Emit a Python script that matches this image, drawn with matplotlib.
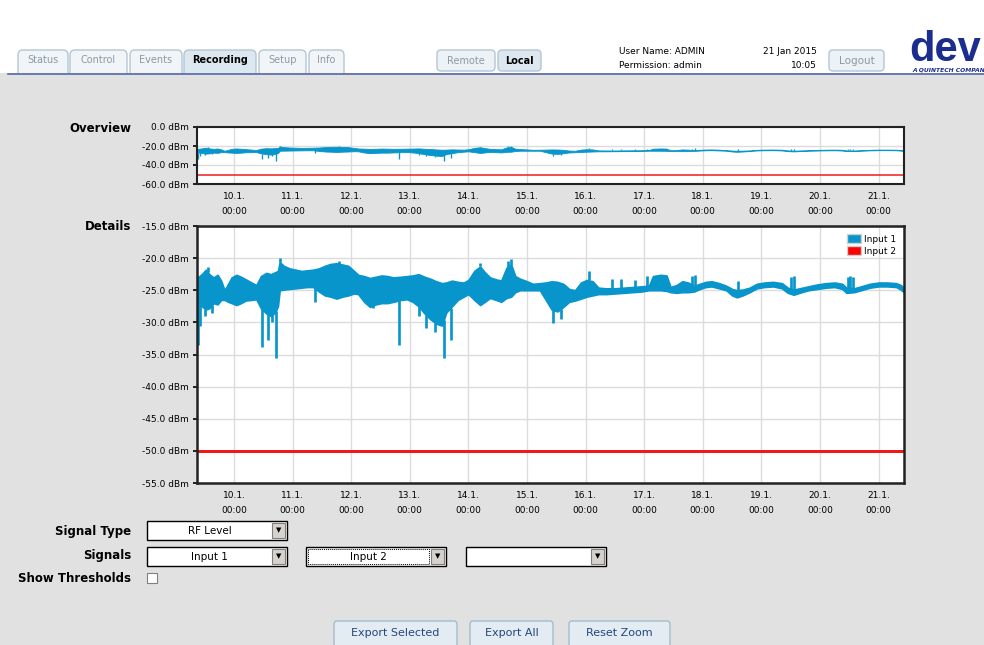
import matplotlib
matplotlib.use("Agg")
import matplotlib.pyplot as plt
import numpy as np
from matplotlib.patches import Rectangle, FancyBboxPatch, Patch

# --- recorded RF level of Input 1 (day of January, dBm) ---
# envelope of the noisy trace: time, upper edge, lower edge
band_t = [9.38, 9.45, 9.52, 9.58, 9.65, 9.72, 9.78, 9.84, 9.90, 9.96,
          10.04, 10.12, 10.20, 10.30, 10.38, 10.46, 10.55, 10.63, 10.70, 10.75,
          10.78, 10.85, 10.95, 11.05, 11.15, 11.25, 11.35, 11.45, 11.55, 11.65,
          11.75, 11.85, 11.95, 12.05, 12.12, 12.22, 12.32, 12.42, 12.52, 12.62,
          12.72, 12.85, 12.95, 13.05, 13.15, 13.25, 13.35, 13.45, 13.55, 13.62,
          13.72, 13.82, 13.92, 14.00, 14.10, 14.20, 14.28, 14.37, 14.47, 14.56,
          14.65, 14.73, 14.80, 14.88, 15.00, 15.10, 15.22, 15.32, 15.42, 15.52,
          15.62, 15.72, 15.82, 15.92, 16.02, 16.12, 16.22, 16.35, 16.50, 16.65,
          16.80, 16.95, 17.08, 17.15, 17.28, 17.38, 17.45, 17.55, 17.65, 17.75,
          17.85, 17.95, 18.05, 18.15, 18.28, 18.40, 18.50, 18.58, 18.68, 18.80,
          18.92, 19.05, 19.20, 19.35, 19.45, 19.55, 19.65, 19.80, 19.95, 20.10,
          20.25, 20.38, 20.45, 20.58, 20.70, 20.85, 21.00, 21.15, 21.30, 21.38,
          21.43]
band_hi = [-23.0, -22.5, -21.8, -22.5, -23.0, -22.6, -23.5, -25.0, -24.0, -23.0,
           -22.6, -22.9, -23.3, -23.8, -24.2, -22.8, -22.3, -22.5, -22.2, -22.0,
           -20.6, -21.2, -21.6, -21.8, -22.0, -21.9, -21.8, -21.6, -21.2, -20.9,
           -20.8, -21.0, -21.2, -22.0, -22.6, -22.8, -23.1, -22.9, -22.7, -22.8,
           -23.0, -22.9, -22.8, -22.7, -22.5, -22.9, -23.2, -23.6, -23.9, -23.8,
           -23.5, -23.7, -23.8, -23.4, -22.0, -21.3, -22.2, -23.0, -23.3, -23.5,
           -21.5, -21.0, -22.8, -23.2, -23.6, -24.0, -23.9, -23.8, -23.6, -23.7,
           -24.0, -24.8, -25.0, -23.8, -23.4, -23.6, -24.6, -24.7, -24.7, -24.6,
           -24.5, -24.4, -24.3, -22.8, -22.6, -22.7, -24.5, -24.2, -23.6, -23.8,
           -24.3, -24.0, -23.7, -23.6, -23.9, -24.3, -24.8, -25.0, -24.9, -24.6,
           -24.0, -23.8, -23.7, -23.9, -24.6, -24.9, -24.7, -24.4, -24.1, -23.9,
           -23.8, -24.0, -24.6, -24.7, -24.4, -24.0, -23.8, -23.8, -23.9, -24.2,
           -24.6]
band_lo = [-26.8, -27.5, -28.0, -27.8, -27.0, -27.2, -26.5, -26.5, -26.8, -27.0,
           -27.3, -27.0, -26.6, -26.5, -26.4, -27.8, -28.6, -29.0, -28.5, -27.5,
           -25.0, -24.9, -24.8, -24.7, -24.6, -24.5, -24.5, -25.2, -25.8, -26.0,
           -26.3, -26.0, -25.8, -25.5, -25.6, -26.8, -27.6, -27.2, -27.0, -27.0,
           -26.8, -26.5, -26.4, -26.8, -27.5, -28.6, -29.5, -30.2, -30.5, -28.5,
           -27.5, -26.5, -26.0, -25.6, -26.5, -27.3, -26.8, -26.2, -26.5, -26.8,
           -26.2, -26.0, -25.3, -25.0, -25.0, -25.0, -25.0, -26.5, -28.0, -28.3,
           -27.6, -26.8, -26.6, -26.3, -26.0, -25.8, -25.6, -25.6, -25.5, -25.4,
           -25.3, -25.2, -25.0, -25.0, -25.0, -25.1, -25.3, -25.4, -25.3, -25.3,
           -25.2, -24.8, -24.5, -24.4, -24.7, -25.0, -25.8, -26.1, -25.8, -25.3,
           -24.7, -24.5, -24.4, -24.7, -25.4, -25.7, -25.4, -25.0, -24.8, -24.6,
           -24.5, -24.8, -25.4, -25.3, -25.0, -24.6, -24.4, -24.4, -24.5, -24.9,
           -25.3]
# short drops and peaks of Input 1
dip_t = [9.385, 9.42, 9.50, 9.62, 10.48, 10.58, 10.65, 10.71, 11.38, 12.38,
         12.82, 13.15, 13.28, 13.43, 13.58, 13.70, 15.45, 15.58]
dip_v = [-33.5, -30.5, -29.0, -28.5, -33.8, -32.7, -30.0, -35.6, -26.9, -27.8,
         -33.5, -29.0, -30.9, -31.5, -35.6, -32.7, -30.1, -29.4]
peak_t = [9.55, 10.78, 11.80, 14.20, 14.68, 14.72, 16.05, 16.45, 16.60, 16.85,
          17.05, 17.82, 17.87, 18.60, 19.50, 19.55, 20.47, 20.52, 20.57]
peak_v = [-21.4, -20.0, -20.5, -20.8, -20.4, -20.2, -22.0, -23.2, -23.3, -23.4,
          -22.8, -22.8, -22.6, -23.6, -22.9, -22.8, -22.9, -22.8, -23.0]

# Input 2
in2_t = [9.37, 21.43]
in2_v = [-50.0, -50.0]

day_ticks = [10, 11, 12, 13, 14, 15, 16, 17, 18, 19, 20, 21]
day_labels = ["%d.1.\n00:00" % d for d in day_ticks]
ov_ticks = [0, -20, -40, -60]
det_ticks = [-15, -20, -25, -30, -35, -40, -45, -50, -55]

BLUE = "#0795cc"
RED = "#f01818"
GRAY_BG = "#e1e1e1"

W, H = 984, 645
fig = plt.figure(figsize=(W / 100, H / 100), dpi=100)
fig.patch.set_facecolor(GRAY_BG)

ui = fig.add_axes([0, 0, 1, 1], zorder=0)
ui.set_xlim(0, W)
ui.set_ylim(H, 0)
ui.axis("off")


def button(x, y, w, h, text, bold=False, color="#8d99a4", fill="#edf2f6",
           edge="#b3c6d4", size=7):
    ui.add_patch(FancyBboxPatch((x, y), w, h, boxstyle="round,pad=0,rounding_size=4",
                                fc=fill, ec=edge, lw=1))
    ui.text(x + w / 2, y + h / 2, text, ha="center", va="center", fontsize=size,
            color=color, fontweight="bold" if bold else "normal")


# header
ui.add_patch(Rectangle((0, 0), W, 73, fc="white", ec="none"))
tabs = [("Status", 18, 50), ("Control", 70, 57), ("Events", 130, 52),
        ("Recording", 184, 72), ("Setup", 259, 47), ("Info", 309, 35)]
for name, x, w in tabs:
    act = name == "Recording"
    ui.add_patch(FancyBboxPatch((x, 50), w, 30, boxstyle="round,pad=0,rounding_size=5",
                                fc="#dde7ef" if act else "#f1f5f8", ec="#b3c6d4", lw=1))
    ui.text(x + w / 2, 60, name, ha="center", va="center", fontsize=7,
            color="black" if act else "#8d99a4", fontweight="bold" if act else "normal")
ui.add_patch(Rectangle((0, 74), W, H - 74, fc=GRAY_BG, ec="none", zorder=2))
ui.plot([8, W], [73.5, 73.5], color="#5566aa", lw=1.2, zorder=3)

button(437, 50, 58, 21, "Remote")
button(498, 50, 43, 21, "Local", bold=True, color="black", fill="#dde7ef")
button(829, 50, 55, 21, "Logout", size=7.5)
ui.text(619, 52, "User Name: ADMIN", fontsize=6.5, va="center")
ui.text(619, 66, "Permission: admin", fontsize=6.5, va="center")
ui.text(817, 52, "21 Jan 2015", fontsize=6.5, va="center", ha="right")
ui.text(817, 66, "10:05", fontsize=6.5, va="center", ha="right")
ui.text(909, 61, "dev", fontsize=30, fontweight="bold", color="#1b2d8f",
        family="Liberation Sans", va="baseline")
ui.text(912, 69.5, "A QUINTECH COMPANY", fontsize=4.3, fontweight="bold", style="italic",
        color="#1b2d8f", va="center")

# chart labels
ui.text(131, 128, "Overview", ha="right", va="center", fontsize=8.5, fontweight="bold", zorder=4)
ui.text(131, 227, "Details", ha="right", va="center", fontsize=8.5, fontweight="bold", zorder=4)


# controls
def dropdown(x, y, w, text, focus=False):
    ui.add_patch(Rectangle((x, y), w, 19, fc="white", ec="black", lw=1, zorder=4))
    ui.add_patch(Rectangle((x + w - 15, y + 2), 13, 15, fc="#d6d3ce", ec="#808080", lw=0.8, zorder=5))
    ui.text(x + w - 8.5, y + 9.5, "\u25bc", ha="center", va="center", fontsize=5, zorder=6)
    if focus:
        ui.add_patch(Rectangle((x + 2, y + 2), w - 19, 15, fc="none", ec="black", lw=0.7,
                               ls=(0, (1, 1)), zorder=5))
    ui.text(x + (w - 15) / 2, y + 10, text, ha="center", va="center", fontsize=7.5, zorder=6)


ui.text(131, 531, "Signal Type", ha="right", va="center", fontsize=8.5, fontweight="bold", zorder=4)
ui.text(131, 556, "Signals", ha="right", va="center", fontsize=8.5, fontweight="bold", zorder=4)
ui.text(131, 579, "Show Thresholds", ha="right", va="center", fontsize=8.5, fontweight="bold", zorder=4)
dropdown(147, 521, 140, "RF Level")
dropdown(147, 547, 140, "Input 1")
dropdown(306, 547, 140, "Input 2", focus=True)
dropdown(466, 547, 140, "")
ui.add_patch(Rectangle((147, 573), 10, 10, fc="white", ec="#808080", lw=0.8, zorder=4))

for txt, x, w in [("Export Selected", 334, 123), ("Export All", 470, 83), ("Reset Zoom", 569, 101)]:
    ui.add_patch(FancyBboxPatch((x, 621), w, 26, boxstyle="round,pad=0,rounding_size=3",
                                fc="#e3ecf3", ec="#a3bccd", lw=1, zorder=4))
    ui.text(x + w / 2, 633, txt, ha="center", va="center", fontsize=8, color="#25467c", zorder=5)


def draw_trace(ax, lw):
    ax.fill_between(band_t, band_lo, band_hi, color=BLUE, lw=lw, edgecolor=BLUE, zorder=3)
    ax.vlines(dip_t, np.interp(dip_t, band_t, band_lo), dip_v, color=BLUE, lw=lw * 1.6, zorder=3)
    ax.vlines(peak_t, np.interp(peak_t, band_t, band_hi), peak_v, color=BLUE, lw=lw * 1.6, zorder=3)
    ax.plot(in2_t, in2_v, color=RED, lw=lw * 1.8, zorder=3, solid_capstyle="butt")


def style(ax, yticks, spine_lw):
    ax.set_facecolor("white")
    ax.set_xlim(9.369, 21.433)
    ax.set_xticks(day_ticks)
    ax.set_xticklabels(day_labels, fontsize=6.5, linespacing=1.75)
    ax.set_yticks(yticks)
    ax.set_yticklabels(["%.1f dBm" % v for v in yticks], fontsize=6.5)
    ax.tick_params(axis="x", length=0, pad=6)
    ax.tick_params(axis="y", length=3, width=1.2, pad=3)
    ax.grid(True, color="#dcdcdc", lw=1, zorder=0)
    ax.set_axisbelow(True)
    for s in ax.spines.values():
        s.set_linewidth(spine_lw)
        s.set_color("#222222")
        s.set_zorder(5)


ov = fig.add_axes([197 / W, 1 - 184 / H, 707 / W, 57 / H], zorder=5)
draw_trace(ov, 0.6)
ov.set_ylim(-60, 0)
style(ov, ov_ticks, 1.5)

det = fig.add_axes([197 / W, 1 - 483 / H, 707 / W, 257 / H], zorder=5)
draw_trace(det, 1.2)
det.set_ylim(-55, -15)
style(det, det_ticks, 1.8)
det.legend(handles=[Patch(fc=BLUE, ec="#d0d0d0", label="Input 1"),
                    Patch(fc="#ff0000", ec="#d0d0d0", label="Input 2")],
           loc="upper right", bbox_to_anchor=(1.0, 1.0), frameon=False, fontsize=6.5,
           handlelength=1.6, handleheight=1.1, labelspacing=0.3, handletextpad=0.3,
           borderaxespad=0.5)

fig.savefig("out.png", dpi=100, facecolor=fig.get_facecolor())
